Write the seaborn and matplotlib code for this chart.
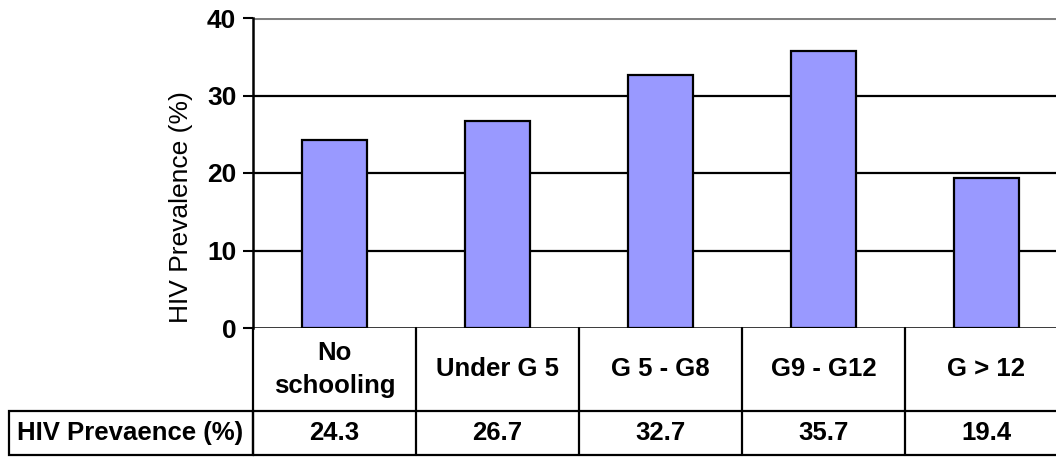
import matplotlib
matplotlib.use("Agg")
import matplotlib.pyplot as plt
import seaborn as sns
import pandas as pd
from matplotlib.lines import Line2D
from matplotlib.patches import Rectangle

categories = ["No\nschooling", "Under G 5", "G 5 - G8", "G9 - G12", "G > 12"]
prevalence = [24.3, 26.7, 32.7, 35.7, 19.4]
row_label = "HIV Prevaence (%)"
y_label = "HIV Prevalence (%)"
y_ticks = [0, 10, 20, 30, 40]

sns.set_theme(style="white")
plt.rcParams["font.family"] = ["Liberation Sans", "DejaVu Sans"]
plt.rcParams["text.color"] = "black"
plt.rcParams["axes.labelcolor"] = "black"
plt.rcParams["ytick.color"] = "black"

W, H = 1056, 457
fig = plt.figure(figsize=(W / 100, H / 100), dpi=100)

# plot area in pixel coordinates (it runs past the right edge of the figure)
left_px, right_px, top_px, bottom_px = 253, 1068, 18, 328
ax = fig.add_axes([left_px / W, 1 - bottom_px / H,
                   (right_px - left_px) / W, (bottom_px - top_px) / H])

df = pd.DataFrame({"category": categories, "value": prevalence})
sns.barplot(data=df, x="category", y="value", ax=ax, color="#9999FF",
            saturation=1, width=0.4, edgecolor="black", linewidth=1.6, zorder=3)

ax.set_xlim(-0.5, len(categories) - 0.5)
ax.set_ylim(0, 40)
ax.set_yticks(y_ticks)
ax.set_yticklabels([str(t) for t in y_ticks], fontsize=19, fontweight="bold")
ax.set_xticks([])
ax.set_xlabel("")
ax.set_ylabel(y_label, fontsize=19)
ax.yaxis.set_label_coords((193 - left_px) / (right_px - left_px),
                          (bottom_px - 207) / (bottom_px - top_px))

for s in ["top", "right", "bottom"]:
    ax.spines[s].set_visible(False)
ax.spines["left"].set_color("black")
ax.spines["left"].set_linewidth(1.8)
ax.tick_params(axis="y", direction="out", length=7, width=1.5, color="black",
               labelcolor="black", left=True, pad=5)

for t in y_ticks[1:-1]:
    ax.axhline(t, color="black", lw=1.6, zorder=1)
ax.axhline(40, color="#808080", lw=2.2, zorder=1)
ax.axhline(0, color="black", lw=1.8, zorder=4)

# data table under the plot
row1 = (bottom_px - 411) / (bottom_px - top_px)
row2 = (bottom_px - 455) / (bottom_px - top_px)
trans = ax.get_xaxis_transform()
lkw = dict(color="black", lw=1.6, clip_on=False)

for i in range(len(categories) + 1):
    ax.add_line(Line2D([i - 0.5, i - 0.5], [0, row2], transform=trans, **lkw))
ax.add_line(Line2D([-0.5, len(categories) - 0.5], [row1, row1], transform=trans, **lkw))
ax.add_line(Line2D([-0.5, len(categories) - 0.5], [row2, row2], transform=trans, **lkw))

for i, (c, v) in enumerate(zip(categories, prevalence)):
    ax.text(i, row1 / 2, c, transform=trans, ha="center", va="center",
            fontsize=18.5, fontweight="bold", linespacing=1.45, color="black")
    ax.text(i, (row1 + row2) / 2, f"{v:.1f}", transform=trans, ha="center",
            va="center", fontsize=18.5, fontweight="bold", color="black")

# row header box
fig.patches.append(Rectangle((9 / W, 1 - 455 / H), (left_px - 9) / W, (455 - 411) / H,
                             transform=fig.transFigure, fill=False,
                             edgecolor="black", lw=1.6))
fig.text(17 / W, 1 - 433 / H, row_label, ha="left", va="center",
         fontsize=18.5, fontweight="bold", color="black")

fig.savefig("out.png", dpi=100)
